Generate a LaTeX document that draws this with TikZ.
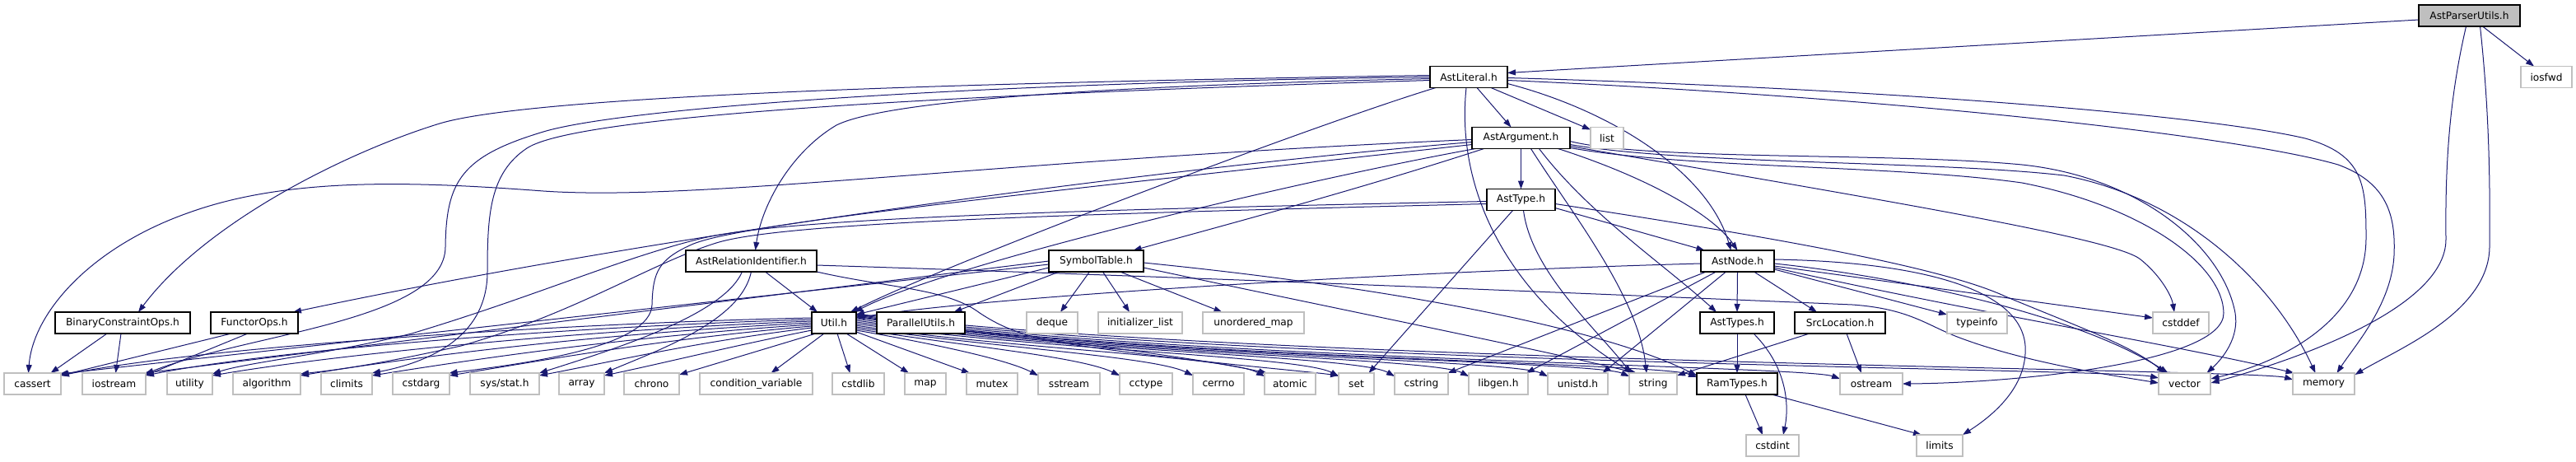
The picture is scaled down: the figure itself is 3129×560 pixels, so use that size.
\documentclass[tikz,border=0pt]{standalone}
\usepackage{fontspec}
\setmainfont{DejaVu Sans}
\usetikzlibrary{arrows.meta,calc}
\pgfdeclarelayer{bg}
\pgfsetlayers{bg,main}
\definecolor{edgec}{HTML}{191970}
\definecolor{grayb}{HTML}{BFBFBF}
\tikzset{
 nbox/.style={minimum height=26pt, inner sep=0pt, line width=1.1pt, font=\fontsize{12.2}{14}\selectfont, fill=white},
 hdr/.style={nbox, draw=black},
 sys/.style={nbox, draw=grayb},
 mainbox/.style={nbox, draw=black, fill=grayb},
 dep/.style={draw=edgec, line width=1.0pt, -{Triangle[length=10pt,width=7pt]}},
}
\begin{document}
\begin{tikzpicture}[x=1pt,y=-1pt]
\useasboundingbox (0,0) rectangle (3129,560);
% row 0-4
\node[mainbox, minimum width=123pt] (apu) at (2999.5,19) {AstParserUtils.h};
\node[hdr, minimum width=94pt] (lit) at (1784,93.5) {AstLiteral.h};
\node[sys, minimum width=62pt] (iosfwd) at (3093,93.5) {iosfwd};
\node[hdr, minimum width=119pt] (arg) at (1847.5,167.5) {AstArgument.h};
\node[sys, minimum width=40pt] (list) at (1952,167.5) {list};
\node[hdr, minimum width=83pt] (type) at (1847.5,242.5) {AstType.h};
\node[hdr, minimum width=159pt] (rel) at (912.5,317) {AstRelationIdentifier.h};
\node[hdr, minimum width=115pt] (sym) at (1331.5,317) {SymbolTable.h};
\node[hdr, minimum width=89pt] (node) at (2110.5,317) {AstNode.h};
% row 5
\node[hdr, minimum width=164pt] (bco) at (149,392) {BinaryConstraintOps.h};
\node[hdr, minimum width=106pt] (fops) at (309,392) {FunctorOps.h};
\node[hdr, minimum width=54pt] (util) at (1013,392) {Util.h};
\node[hdr, minimum width=107pt] (par) at (1118.5,392) {ParallelUtils.h};
\node[sys, minimum width=62pt] (deque) at (1278,392) {deque};
\node[sys, minimum width=102pt] (initl) at (1385,392) {initializer\_list};
\node[sys, minimum width=123pt] (umap) at (1522.5,392) {unordered\_map};
\node[hdr, minimum width=90pt] (types) at (2110,392) {AstTypes.h};
\node[hdr, minimum width=110pt] (srcloc) at (2235,392) {SrcLocation.h};
\node[sys, minimum width=73pt] (typeinfo) at (2401.5,392) {typeinfo};
\node[sys, minimum width=68pt] (cstddef) at (2649,392) {cstddef};
% row 6
\node[sys, minimum width=69pt] (cassert) at (39.5,466) {cassert};
\node[sys, minimum width=77pt] (iostream) at (138.5,466) {iostream};
\node[sys, minimum width=55pt] (utility) at (230.5,466) {utility};
\node[sys, minimum width=82pt] (algorithm) at (324,466) {algorithm};
\node[sys, minimum width=62pt] (climits) at (421,466) {climits};
\node[sys, minimum width=69pt] (cstdarg) at (511.5,466) {cstdarg};
\node[sys, minimum width=84pt] (sysstat) at (613,466) {sys/stat.h};
\node[sys, minimum width=55pt] (array) at (706.5,466) {array};
\node[sys, minimum width=67pt] (chrono) at (791.5,466) {chrono};
\node[sys, minimum width=137pt] (condvar) at (918.5,466) {condition\_variable};
\node[sys, minimum width=63pt] (cstdlib) at (1042.5,466) {cstdlib};
\node[sys, minimum width=50pt] (map) at (1124,466) {map};
\node[sys, minimum width=62pt] (mutex) at (1205,466) {mutex};
\node[sys, minimum width=75pt] (sstream) at (1298.5,466) {sstream};
\node[sys, minimum width=64pt] (cctype) at (1392,466) {cctype};
\node[sys, minimum width=62pt] (cerrno) at (1480,466) {cerrno};
\node[sys, minimum width=62pt] (atomic) at (1567,466) {atomic};
\node[sys, minimum width=43pt] (set) at (1647.5,466) {set};
\node[sys, minimum width=65pt] (cstring) at (1726.5,466) {cstring};
\node[sys, minimum width=72pt] (libgen) at (1820,466) {libgen.h};
\node[sys, minimum width=73pt] (unistd) at (1916.5,466) {unistd.h};
\node[sys, minimum width=58pt] (string) at (2008,466) {string};
\node[hdr, minimum width=98pt] (ram) at (2110,466) {RamTypes.h};
\node[sys, minimum width=76pt] (ostream) at (2273,466) {ostream};
\node[sys, minimum width=63pt] (vector) at (2653.5,466) {vector};
\node[sys, minimum width=75pt] (memory) at (2822.5,466) {memory};
% row 7
\node[sys, minimum width=64pt] (cstdint) at (2153,541) {cstdint};
\node[sys, minimum width=56pt] (limits) at (2356,541) {limits};

\begin{pgfonlayer}{bg}
% AstParserUtils.h
\draw[dep] ($(apu)+(-61.5,5)$) -- ($(lit)+(47,-5)$);
\draw[dep] ($(apu)+(16,13)$) -- ($(iosfwd)+(-15,-13)$);
\draw[dep] ($(apu)+(-4,13)$) .. controls (2975,120) and (2970,200) .. (2971,290) .. controls (2972,380) and (2760,445) .. ($(vector)+(32,-1)$);
\draw[dep] ($(apu)+(13,13)$) .. controls (3022,120) and (3025,200) .. (3024,300) .. controls (3023,380) and (2910,425) .. ($(memory)+(38,-11)$);
% AstLiteral.h
\draw[dep] ($(lit)+(10,13)$) -- ($(arg)+(-12,-13)$);
\draw[dep] ($(lit)+(27,13)$) -- ($(list)+(-20,-10)$);
\draw[dep] ($(lit)+(47,8)$) .. controls (1960,135) and (2075,210) .. ($(node)+(-8,-13)$);
\draw[dep] ($(lit)+(47,1)$) .. controls (2300,108) and (2680,140) .. (2800,168) .. controls (2872,188) and (2874,225) .. (2874,290) .. controls (2873,390) and (2770,440) .. ($(vector)+(32,-6)$);
\draw[dep] ($(lit)+(47,4)$) .. controls (2300,118) and (2720,165) .. (2840,200) .. controls (2900,222) and (2910,262) .. (2908,310) .. controls (2905,370) and (2860,420) .. ($(memory)+(16,-13)$);
\draw[dep] ($(lit)+(-3,13)$) .. controls (1768,230) and (1830,360) .. ($(string)+(-25,-13)$);
\draw[dep] ($(lit)+(-40,13)$) .. controls (1600,150) and (1150,320) .. ($(util)+(20,-13)$);
\draw[dep] ($(lit)+(-47,2)$) .. controls (1300,105) and (1070,125) .. (1016,152) .. controls (960,185) and (925,250) .. ($(rel)+(5,-13)$);
\draw[dep] ($(lit)+(-47,-2)$) .. controls (1200,100) and (650,115) .. (534,150) .. controls (420,185) and (250,270) .. ($(bco)+(19,-13)$);
\draw[dep] ($(lit)+(-47,0)$) .. controls (1200,100) and (760,130) .. (660,160) .. controls (560,190) and (542,220) .. (541,300) .. controls (540,390) and (300,405) .. ($(iostream)+(38,-12)$);
\draw[dep] ($(lit)+(-47,4)$) .. controls (1150,115) and (700,140) .. (640,180) .. controls (595,210) and (592,260) .. (592,330) .. controls (592,410) and (520,440) .. ($(climits)+(31,-13)$);
% AstArgument.h
\draw[dep] ($(arg)+(0,13)$) -- ($(type)+(0,-13)$);
\draw[dep] ($(arg)+(45,13)$) .. controls (2000,215) and (2080,260) .. ($(node)+(0,-13)$);
\draw[dep] ($(arg)+(22,13)$) .. controls (1930,260) and (2020,320) .. ($(types)+(-25,-13)$);
\draw[dep] ($(arg)+(12,13)$) .. controls (1910,260) and (1990,360) .. ($(string)+(-8,-13)$);
\draw[dep] ($(arg)+(-45,13)$) .. controls (1650,230) and (1500,270) .. ($(sym)+(45,-13)$);
\draw[dep] ($(arg)+(-55,13)$) .. controls (1600,215) and (1150,320) .. ($(util)+(25,-13)$);
\draw[dep] ($(arg)+(-59.5,2)$) .. controls (1200,195) and (850,245) .. (660,232) .. controls (500,220) and (350,215) .. (230,258) .. controls (110,300) and (40,380) .. ($(cassert)+(-5,-13)$);
\draw[dep] ($(arg)+(-59.5,5)$) .. controls (1400,205) and (800,285) .. ($(fops)+(47,-13)$);
\draw[dep] ($(arg)+(-59.5,8)$) .. controls (1300,230) and (900,270) .. (840,297) .. controls (800,315) and (793,330) .. (792,370) .. controls (790,420) and (650,440) .. ($(cstdarg)+(34,-13)$);
\draw[dep] ($(arg)+(59.5,10)$) .. controls (2300,245) and (2570,290) .. (2600,315) .. controls (2625,335) and (2638,360) .. ($(cstddef)+(-8,-13)$);
\draw[dep] ($(arg)+(59.5,4)$) .. controls (2000,195) and (2300,185) .. (2456,200) .. controls (2600,215) and (2700,300) .. (2715,380) .. controls (2720,410) and (2700,435) .. ($(vector)+(27,-13)$);
\draw[dep] ($(arg)+(59.5,8)$) .. controls (2050,200) and (2350,195) .. (2507,213) .. controls (2650,240) and (2760,340) .. ($(memory)+(-10,-13)$);
\draw[dep] ($(arg)+(59.5,12)$) .. controls (2050,205) and (2300,200) .. (2456,222) .. controls (2600,250) and (2700,320) .. (2701,380) .. controls (2702,440) and (2450,465) .. ($(ostream)+(38,0)$);
% AstType.h
\draw[dep] ($(type)+(41.5,10)$) -- ($(node)+(-40,-13)$);
\draw[dep] ($(type)+(41.5,5)$) .. controls (2100,280) and (2350,320) .. (2436,360) .. controls (2520,395) and (2590,420) .. ($(vector)+(-24,-13)$);
\draw[dep] ($(type)+(-10,13)$) -- ($(set)+(15,-13)$);
\draw[dep] ($(type)+(3,13)$) .. controls (1860,330) and (1940,400) .. ($(string)+(-27,-13)$);
\draw[dep] ($(type)+(-41.5,2)$) .. controls (1300,255) and (950,265) .. (850,290) .. controls (750,315) and (650,360) .. (500,405) .. controls (400,430) and (300,440) .. ($(utility)+(27.5,-12)$);
\draw[dep] ($(type)+(-41.5,5)$) .. controls (1300,260) and (950,270) .. (870,295) .. controls (790,320) and (700,380) .. (560,420) .. controls (470,440) and (420,448) .. ($(algorithm)+(41,-12)$);
% AstRelationIdentifier.h
\draw[dep] ($(rel)+(17,13)$) -- ($(util)+(-20,-13)$);
\draw[dep] ($(rel)+(-11,13)$) .. controls (880,380) and (760,420) .. ($(sysstat)+(42,-13)$);
\draw[dep] ($(rel)+(0,13)$) .. controls (900,390) and (800,425) .. ($(array)+(27.5,-13)$);
\draw[dep] ($(rel)+(79.5,5)$) .. controls (1400,335) and (1900,355) .. (2250,370) .. controls (2320,375) and (2340,395) .. (2380,410) .. controls (2460,440) and (2560,455) .. ($(vector)+(-31.5,-1)$);
\draw[dep] ($(rel)+(79.5,13)$) .. controls (1080,350) and (1150,350) .. (1190,380) .. controls (1220,400) and (1250,410) .. (1300,418) .. controls (1450,440) and (1580,450) .. ($(set)+(-21.5,-10)$);
% SymbolTable.h
\draw[dep] ($(sym)+(-45,13)$) -- ($(par)+(40,-13)$);
\draw[dep] ($(sym)+(-57.5,8)$) -- ($(util)+(27,-10)$);
\draw[dep] ($(sym)+(-8,13)$) -- ($(deque)+(10,-13)$);
\draw[dep] ($(sym)+(8,13)$) -- ($(initl)+(-13,-13)$);
\draw[dep] ($(sym)+(29,13)$) -- ($(umap)+(-38,-13)$);
\draw[dep] ($(sym)+(-57.5,4)$) -- ($(cassert)+(33,-12)$);
\draw[dep] ($(sym)+(-57.5,0)$) -- ($(iostream)+(37,-13)$);
\draw[dep] ($(sym)+(57.5,8)$) .. controls (1600,370) and (1850,420) .. ($(string)+(-20,-13)$);
\draw[dep] ($(sym)+(57.5,2)$) .. controls (1700,350) and (1950,400) .. ($(ram)+(-49,-10)$);
% AstNode.h
\draw[dep] ($(node)+(-44.5,3)$) .. controls (1700,330) and (1200,360) .. ($(util)+(27,-6)$);
\draw[dep] ($(node)+(-38,13)$) -- ($(cstring)+(32,-13)$);
\draw[dep] ($(node)+(-26,13)$) -- ($(libgen)+(34,-13)$);
\draw[dep] ($(node)+(-14,13)$) -- ($(unistd)+(30,-13)$);
\draw[dep] ($(node)+(0,13)$) -- ($(types)+(0,-13)$);
\draw[dep] ($(node)+(20,13)$) -- ($(srcloc)+(-28,-13)$);
\draw[dep] ($(node)+(44.5,10)$) -- ($(typeinfo)+(-36.5,-10)$);
\draw[dep] ($(node)+(44.5,6)$) -- ($(cstddef)+(-34,-6)$);
\draw[dep] ($(node)+(44.5,3)$) .. controls (2300,335) and (2520,380) .. ($(vector)+(-20,-13)$);
\draw[dep] ($(node)+(44.5,8)$) .. controls (2400,380) and (2650,420) .. ($(memory)+(-36,-13)$);
\draw[dep] ($(node)+(44.5,-2)$) .. controls (2330,318) and (2455,350) .. (2460,420) .. controls (2463,470) and (2420,505) .. ($(limits)+(28,-13)$);
% AstTypes.h, SrcLocation.h, RamTypes.h, ParallelUtils.h
\draw[dep] ($(types)+(0,13)$) -- ($(ram)+(0,-13)$);
\draw[dep] ($(types)+(20,13)$) .. controls (2175,450) and (2172,500) .. ($(cstdint)+(13,-13)$);
\draw[dep] ($(srcloc)+(8,13)$) -- ($(ostream)+(-12,-13)$);
\draw[dep] ($(srcloc)+(-37,13)$) -- ($(string)+(29,-10)$);
\draw[dep] ($(ram)+(10,13)$) -- ($(cstdint)+(-12,-13)$);
\draw[dep] ($(ram)+(42,13)$) -- ($(limits)+(-22,-13)$);
\draw[dep] ($(par)+(53.5,10)$) .. controls (1350,420) and (1480,440) .. ($(atomic)+(-28,-13)$);
% BinaryConstraintOps.h, FunctorOps.h
\draw[dep] ($(bco)+(-19,13)$) -- ($(cassert)+(22,-13)$);
\draw[dep] ($(bco)+(-2,13)$) -- ($(iostream)+(2,-13)$);
\draw[dep] ($(fops)+(-28,13)$) -- ($(cassert)+(34,-10)$);
\draw[dep] ($(fops)+(-8,13)$) -- ($(iostream)+(38,-10)$);
% Util.h left
\draw[dep] ($(util)+(-27,-6)$) .. controls (700,392) and (250,420) .. ($(cassert)+(34.5,-10)$);
\draw[dep] ($(util)+(-27,-4)$) .. controls (700,396) and (330,425) .. ($(iostream)+(38.5,-10)$);
\draw[dep] ($(util)+(-27,-2)$) .. controls (720,400) and (410,430) .. ($(utility)+(27.5,-10)$);
\draw[dep] ($(util)+(-27,0)$) .. controls (740,404) and (510,432) .. ($(algorithm)+(41,-10)$);
\draw[dep] ($(util)+(-27,2)$) .. controls (770,408) and (590,434) .. ($(climits)+(31,-10)$);
\draw[dep] ($(util)+(-27,4)$) .. controls (800,412) and (670,436) .. ($(cstdarg)+(34.5,-10)$);
\draw[dep] ($(util)+(-27,6)$) .. controls (840,416) and (750,438) .. ($(sysstat)+(42,-10)$);
\draw[dep] ($(util)+(-27,9)$) .. controls (890,420) and (810,440) .. ($(array)+(27.5,-10)$);
\draw[dep] ($(util)+(-22,13)$) -- ($(chrono)+(33.5,-11)$);
\draw[dep] ($(util)+(-12,13)$) -- ($(condvar)+(18,-13)$);
\draw[dep] ($(util)+(4,13)$) -- ($(cstdlib)+(-10,-13)$);
% Util.h right
\draw[dep] ($(util)+(15,13)$) -- ($(map)+(-20,-13)$);
\draw[dep] ($(util)+(27,11)$) -- ($(mutex)+(-27,-13)$);
\draw[dep] ($(util)+(27,9)$) .. controls (1120,415) and (1220,435) .. ($(sstream)+(-37.5,-10)$);
\draw[dep] ($(util)+(27,7)$) .. controls (1150,418) and (1310,432) .. ($(cctype)+(-32,-10)$);
\draw[dep] ($(util)+(27,5)$) .. controls (1180,420) and (1400,432) .. ($(cerrno)+(-31,-10)$);
\draw[dep] ($(util)+(27,3)$) .. controls (1200,422) and (1490,432) .. ($(atomic)+(-31,-9)$);
\draw[dep] ($(util)+(27,1)$) .. controls (1250,424) and (1580,432) .. ($(set)+(-21.5,-9)$);
\draw[dep] ($(util)+(27,-1)$) .. controls (1280,426) and (1650,432) .. ($(cstring)+(-32.5,-9)$);
\draw[dep] ($(util)+(27,-3)$) .. controls (1300,428) and (1740,434) .. ($(libgen)+(-36,-9)$);
\draw[dep] ($(util)+(27,-5)$) .. controls (1320,430) and (1835,436) .. ($(unistd)+(-36.5,-9)$);
\draw[dep] ($(util)+(27,-7)$) .. controls (1340,432) and (1935,438) .. ($(string)+(-29,-9)$);
\draw[dep] ($(util)+(27,-8)$) .. controls (1360,434) and (2015,440) .. ($(ram)+(-49,-8)$);
\draw[dep] ($(util)+(27,-9)$) .. controls (1400,436) and (2190,444) .. ($(ostream)+(-38,-6)$);
\draw[dep] ($(util)+(27,-10)$) .. controls (1450,440) and (2570,448) .. ($(vector)+(-31.5,-7)$);
\draw[dep] ($(util)+(27,-11)$) .. controls (1500,440) and (2740,448) .. ($(memory)+(-37.5,-5)$);
\end{pgfonlayer}
\end{tikzpicture}
\end{document}
